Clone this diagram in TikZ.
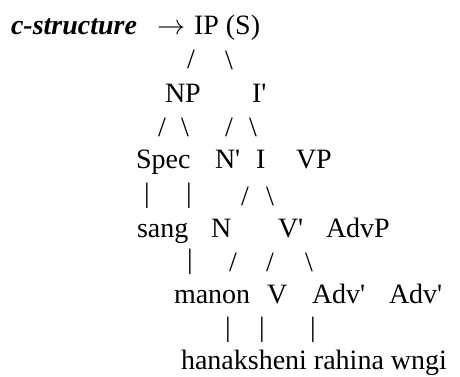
\RequirePackage{fix-cm}
\documentclass[tikz,border=0pt]{standalone}
\usepackage{fontspec}
\setmainfont{Liberation Serif}
\newcommand{\pr}{\textquotesingle}
\begin{document}
\begin{tikzpicture}[x=1pt,y=-1pt,
  every node/.style={inner sep=0pt,outer sep=0pt,font=\fontsize{28}{34}\selectfont},
  word/.style={anchor=base west},
  branch/.style={anchor=center},
  title/.style={anchor=base west,font=\fontsize{28}{34}\selectfont\bfseries\itshape}]
\useasboundingbox (0,0) rectangle (460,376);
% heading
\node[title] (head) at (11,34) {c-structure};
\node[word] (arrow) at (157,34) {$\rightarrow$};
\node[word] (ip) at (194,34) {IP (S)};
% level 1
\node[branch] (b1a) at (191,59) {/};
\node[branch] (b1b) at (229,60) {\textbackslash};
\node[word] (np) at (165,102) {NP};
\node[word] (ibar) at (252,102) {I\pr};
% level 2
\node[branch] (b2a) at (162,127) {/};
\node[branch] (b2b) at (185,127) {\textbackslash};
\node[branch] (b2c) at (229,127) {/};
\node[branch] (b2d) at (253,127) {\textbackslash};
\node[word] (spec) at (136,168) {Spec};
\node[word] (nbar) at (215,168) {N\pr};
\node[word] (i) at (256,168) {I};
\node[word] (vp) at (296,168) {VP};
% level 3
\node[branch] (b3a) at (147,196) {|};
\node[branch] (b3b) at (189,196) {|};
\node[branch] (b3c) at (245,196) {/};
\node[branch] (b3d) at (270,196) {\textbackslash};
\node[word] (sang) at (137,237) {sang};
\node[word] (n) at (211,237) {N};
\node[word] (vbar) at (278,237) {V\pr};
\node[word] (advp) at (326,237) {AdvP};
% level 4
\node[branch] (b4a) at (190,262) {|};
\node[branch] (b4b) at (233,262) {/};
\node[branch] (b4c) at (270,262) {/};
\node[branch] (b4d) at (309,262) {\textbackslash};
\node[word] (manon) at (174,303) {manon};
\node[word] (v) at (267,303) {V};
\node[word] (advbara) at (312,303) {Adv\pr};
\node[word] (advbarb) at (389,303) {Adv\pr};
% level 5
\node[branch] (b5a) at (228,330) {|};
\node[branch] (b5b) at (262,330) {|};
\node[branch] (b5c) at (313,330) {|};
\node[word] (leaves) at (181,369) {hanaksheni rahina wngi};
\end{tikzpicture}
\end{document}
